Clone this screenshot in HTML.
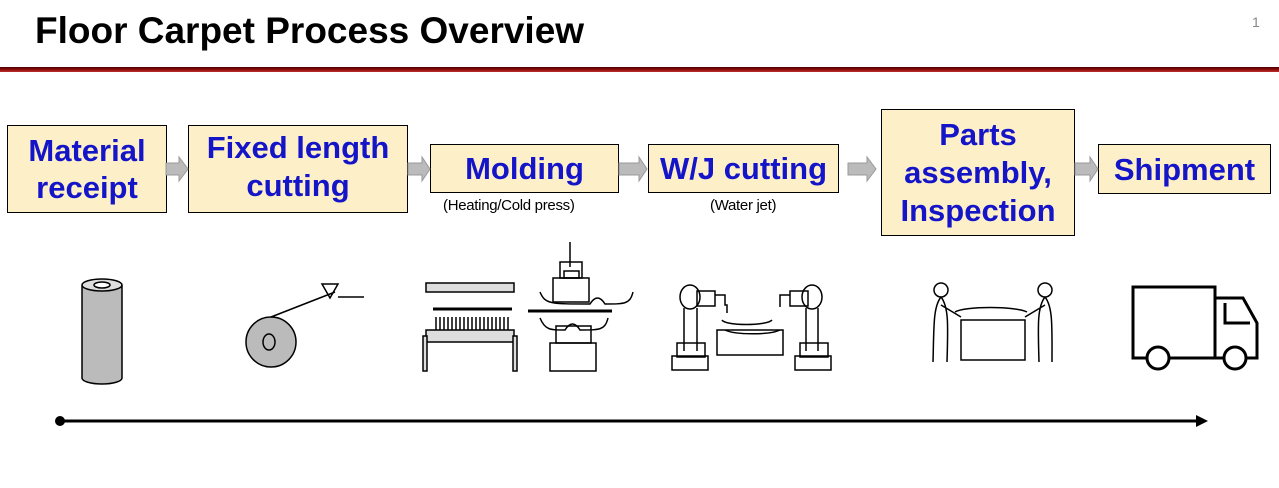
<!DOCTYPE html>
<html><head><style>
body{margin:0;width:1279px;height:488px;background:#fff;position:relative;overflow:hidden;font-family:"Liberation Sans",Arial,sans-serif}
.t{position:absolute;left:35px;top:10px;font-size:37px;font-weight:bold;color:#000}
.pn{position:absolute;left:1252px;top:14px;font-size:14px;color:#888}
.rl{position:absolute;left:0;top:67px;width:1279px;height:5px;background:linear-gradient(#4a0000,#8a0a0a,#c03030)}
.b{position:absolute;box-sizing:border-box;border:1px solid #000;background:#fdf0c8;color:#1414c8;font-weight:bold;font-size:31px;line-height:37px;display:flex;align-items:center;justify-content:center;text-align:center;white-space:nowrap}
.s{position:absolute;font-size:15px;color:#000;letter-spacing:-0.3px}
</style></head><body>
<div class="t">Floor Carpet Process Overview</div>
<div class="pn">1</div>
<div class="rl"></div>
<div class="b" style="left:7px;top:125px;width:160px;height:88px">Material<br>receipt</div>
<div class="b" style="left:188px;top:125px;width:220px;height:88px;line-height:38px;padding-bottom:4px">Fixed length<br>cutting</div>
<div class="b" style="left:430px;top:144px;width:189px;height:49px">Molding</div>
<div class="b" style="left:648px;top:144px;width:191px;height:49px">W/J cutting</div>
<div class="b" style="left:881px;top:109px;width:194px;height:127px;line-height:38px">Parts<br>assembly,<br>Inspection</div>
<div class="b" style="left:1098px;top:144px;width:173px;height:50px">Shipment</div>
<div class="s" style="left:443px;top:197px">(Heating/Cold press)</div>
<div class="s" style="left:710px;top:197px">(Water jet)</div>
<svg width="1279" height="488" style="position:absolute;left:0;top:0">
<g fill="#bbb" stroke="#999">
<path d="M166 163h13v-6l9 12-9 12v-6h-13z"/>
<path d="M408 163h14v-6l8 12-8 12v-6h-14z"/>
<path d="M619 163h20v-6l8 12-8 12v-6h-20z"/>
<path d="M848 163h19v-6l9 12-9 12v-6h-19z"/>
<path d="M1075 163h15v-6l8 12-8 12v-6h-15z"/>
</g>
<g stroke="#000" stroke-width="1.5" fill="none">
<path d="M82 285v93a20 6 0 0 0 40 0v-93" fill="#bbb"/>
<ellipse cx="102" cy="285" rx="20" ry="6" fill="#ddd"/>
<ellipse cx="102" cy="285" rx="8" ry="3" fill="#fff"/>
<circle cx="271" cy="342" r="25" fill="#bbb"/>
<ellipse cx="269" cy="342" rx="6" ry="8" fill="#bbb"/>
<path d="M271 317L335 292M322 284h16l-8 14zM338 297h26"/>
<rect x="426" y="283" width="88" height="9" fill="#ddd"/>
<path d="M433 309h79" stroke-width="3"/>
<path d="M436 317v14M440 317v14M444 317v14M448 317v14M452 317v14M456 317v14M460 317v14M464 317v14M468 317v14M472 317v14M476 317v14M480 317v14M484 317v14M488 317v14M492 317v14M496 317v14M500 317v14M504 317v14M508 317v14"/>
<rect x="426" y="330" width="88" height="12" fill="#ddd"/>
<rect x="423" y="336" width="4" height="35" fill="#ddd"/>
<rect x="513" y="336" width="4" height="35" fill="#ddd"/>
<path d="M570 242v25"/><rect x="560" y="262" width="22" height="16"/><rect x="564" y="271" width="15" height="7"/>
<rect x="553" y="278" width="36" height="24"/>
<path d="M540 292c5 12 10 12 50 12c5-8 10-8 15 0c20 0 25 0 28-12M540 318c5 12 10 12 25 12c5-8 10-8 15 0c20 0 25 0 28-12"/>
<path d="M528 311h84" stroke-width="3"/>
<rect x="556" y="326" width="35" height="17"/><rect x="550" y="343" width="46" height="28"/>
<ellipse cx="690" cy="297" rx="10" ry="12"/><path d="M684 308v43M697 308v43"/>
<rect x="697" y="291" width="18" height="15"/><path d="M715 295h10v10h2v8"/>
<rect x="677" y="343" width="28" height="14"/><rect x="672" y="356" width="36" height="14"/>
<ellipse cx="812" cy="297" rx="10" ry="12"/><path d="M806 308v43M818 308v43"/>
<rect x="790" y="291" width="18" height="15"/><path d="M790 295h-10v12"/>
<rect x="800" y="343" width="28" height="14"/><rect x="795" y="356" width="36" height="14"/>
<rect x="717" y="330" width="66" height="25"/><path d="M722 320c3 6 45 6 50 0M725 330c10 5 45 5 55 0"/>
<circle cx="941" cy="290" r="7"/><path d="M941 297c-8 10-7 30-8 65M941 297c8 10 7 30 6 65M941 305l20 12"/>
<circle cx="1045" cy="290" r="7"/><path d="M1045 297c-8 10-7 30-6 65M1045 297c8 10 7 30 7 65M1045 305l-20 12"/>
<path d="M955 312c10-6 60-6 72 0" />
<rect x="961" y="320" width="64" height="40"/>
<path d="M1133 287h82v71h-82zM1215 298h28l14 25v35h-42" stroke-width="3"/>
<path d="M1225 303v20h25" stroke-width="3"/>
<circle cx="1158" cy="358" r="11" fill="#fff" stroke-width="3"/>
<circle cx="1235" cy="358" r="11" fill="#fff" stroke-width="3"/>
<path d="M60 421H1198" stroke-width="3"/>
</g>
<circle cx="60" cy="421" r="5"/>
<path d="M1196 415l12 6-12 6z"/>
</svg>
</body></html>
